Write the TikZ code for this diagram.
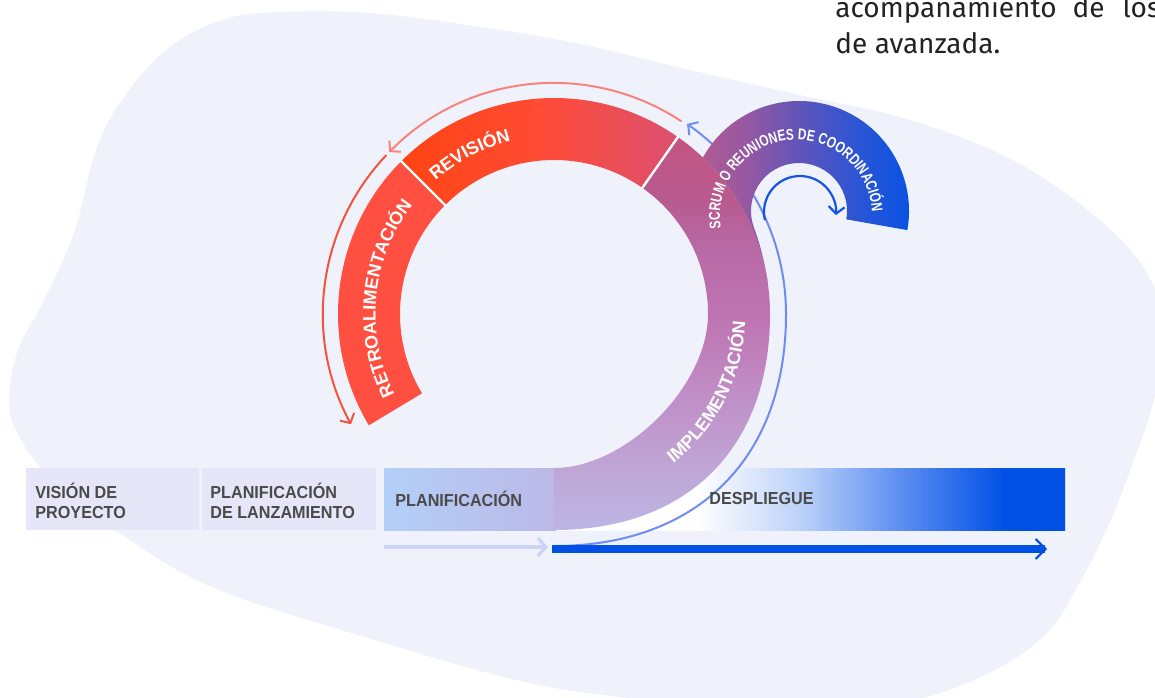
\documentclass[tikz,border=0pt]{standalone}
\usepackage{fontspec}
\setmainfont{Liberation Sans}
\newfontfamily\parafont{Fira Sans}
\newfontfamily\labelface{Liberation Sans}[FakeStretch=0.93]
\newfontfamily\scrumface{Liberation Sans}[FakeStretch=0.76]
\usetikzlibrary{arrows.meta,calc,decorations.text}

\definecolor{blobbg}{HTML}{EFF2FA}
\definecolor{boxgray}{HTML}{E5E7F8}
\definecolor{labelgray}{HTML}{4A4A4A}
\definecolor{parablack}{HTML}{222222}
\definecolor{planblue}{HTML}{B3D0F8}
\definecolor{lavender}{HTML}{BCB8E6}
\definecolor{retrored}{HTML}{FF4F40}
\definecolor{revorange}{HTML}{FF4412}
\definecolor{revmid}{HTML}{FF4B35}
\definecolor{revpink}{HTML}{DC5070}
\definecolor{deepblue}{HTML}{0050E6}
\definecolor{loopblue}{HTML}{1652E6}
\definecolor{thinblue}{HTML}{6E8CF2}
\definecolor{paleblue}{HTML}{CCD3F8}
\definecolor{salmon}{HTML}{F8827E}
\definecolor{arcred}{HTML}{F4523F}
% ring colours, bottom to top
\definecolor{rA}{HTML}{BCB6E4}
\definecolor{rB}{HTML}{BFA6D6}
\definecolor{rC}{HTML}{C090C8}
\definecolor{rD}{HTML}{BF78B5}
\definecolor{rE}{HTML}{B86AA6}
\definecolor{rF}{HTML}{B85A90}
\definecolor{rG}{HTML}{C45580}
% scrum colours, left to right
\definecolor{sA}{HTML}{B05A94}
\definecolor{sB}{HTML}{9558A2}
\definecolor{sC}{HTML}{6555B6}
\definecolor{sD}{HTML}{2D55D4}
\definecolor{sE}{HTML}{0352E6}
% deploy colours
\definecolor{dA}{HTML}{BCD2F8}
\definecolor{dB}{HTML}{5C8EF0}

\pgfdeclareverticalshading{ringshade}{100bp}{color(0bp)=(rA); color(25bp)=(rA); color(32.6bp)=(rB); color(41.5bp)=(rC); color(50.4bp)=(rD); color(60.6bp)=(rE); color(67bp)=(rF); color(75bp)=(rG); color(100bp)=(rG)}
\pgfdeclarehorizontalshading{scrumshade}{100bp}{color(0bp)=(sA); color(25bp)=(sA); color(35.2bp)=(sB); color(46.1bp)=(sC); color(60.7bp)=(sD); color(75bp)=(sE); color(100bp)=(sE)}
\pgfdeclarehorizontalshading{deployshade}{100bp}{color(0bp)=(white); color(39bp)=(white); color(49.1bp)=(dA); color(58.9bp)=(dB); color(69.2bp)=(deepblue); color(100bp)=(deepblue)}

\newcommand\ringfont{\bfseries\fontsize{9}{9}\selectfont}
\newcommand\scrumfont{\scrumface\bfseries\fontsize{7.8}{7.8}\selectfont}

\begin{document}
\begin{tikzpicture}[x=0.5pt,y=0.5pt]
\tikzstyle{boxlabel} = [anchor=west, inner sep=0pt, align=left, text=labelgray, font=\labelface\bfseries\fontsize{8.7}{10}\selectfont]
\tikzstyle{para} = [anchor=base west, inner sep=0pt, text=parablack, font=\parafont\fontsize{14}{18}\selectfont]
\tikzstyle{sep} = [white, line width=1.2pt]
\tikzstyle{feedback} = [line width=1pt, -{Straight Barb[length=3.5pt,width=8pt]}]
\tikzstyle{arclabel} = [decorate, decoration={text along path, text align=center, text color=white}]
\useasboundingbox (0,0) rectangle (1155,697);

% background
\fill[blobbg] plot[smooth cycle, tension=0.6] coordinates {(74,464) (96,547) (122,597) (166,647) (222,677) (281,685) (370,684) (481,670) (580,653) (690,627) (800,602) (910,577) (1020,533) (1112,466) (1155,408) (1163,350) (1152,290) (1135,240) (1110,175) (1080,115) (1045,62) (983,21) (900,-5) (760,-12) (620,0) (516,17) (368,59) (214,109) (122,162) (85,193) (42,228) (16,267) (9,297) (18,347) (44,397)};

\node[para] (para1) at (835,679) {acompañamiento\hspace{8pt}de\hspace{9pt}los};
\node[para] (para2) at (835,643) {de avanzada.};

% phases
\fill[boxgray] (26,167) rectangle (199,229);
\fill[boxgray] (202,167) rectangle (376,229);
\shade[shading=deployshade] (554,167) rectangle (1065,229);
\shade[left color=planblue, right color=lavender] (384,167) rectangle (556,229);

\coordinate (c) at (554,383);
\coordinate (s) at (799,486);
\coordinate (loop c) at (800,485);
\coordinate (fb blue) at (554,151);
\coordinate (fb salmon) at ($(c)+(56.5:231)$);
\coordinate (fb red) at ($(c)+(136.5:231)$);
\coordinate (loop start) at ($(loop c)+(193:36)$);
\coordinate (plan start) at (384,150);
\coordinate (plan end) at (548,150);
\coordinate (dep start) at (552,148);
\coordinate (dep end) at (1047,148);

\draw[feedback, thinblue] (fb blue) .. controls (697.8,151) and (786,239.2) .. (786,383) arc[start angle=0,end angle=55,radius=232];

% ring and scrum
\shade[shading=ringshade] (554,167) .. controls (687.9,167) and (770,249.1) .. (770,383) arc[start angle=0,end angle=55,radius=216] -- ($(c)+(55:154)$) arc[start angle=55,end angle=0,radius=154] .. controls (708,311) and (626,229) .. (554,229) -- cycle;
\shade[shading=scrumshade] ($(c)+(8:216)$) .. controls (765.1,433) and (760.7,450.8) .. ($(s)+(200:48)$) arc[start angle=200,end angle=-10,radius=48] -- ($(s)+(-10:110)$) arc[start angle=-10,end angle=150.9,radius=110] arc[start angle=46.4,end angle=8,radius=216] -- cycle;
\shade[left color=revorange, right color=revpink, middle color=revmid] ($(c)+(55:216)$) arc[start angle=55,end angle=135,radius=216] -- ($(c)+(135:154)$) arc[start angle=135,end angle=55,radius=154] -- cycle;
\fill[retrored] ($(c)+(135:216)$) arc[start angle=135,end angle=211,radius=216] -- ($(c)+(211:154)$) arc[start angle=211,end angle=135,radius=154] -- cycle;
\draw[sep] ($(c)+(135:153)$) -- ($(c)+(135:217)$);
\draw[sep] ($(c)+(55:153)$) -- ($(c)+(55:217)$);

% arrows
\draw[feedback, salmon] (fb salmon) arc[start angle=56.5,end angle=135.5,radius=231];
\draw[feedback, arcred] (fb red) arc[start angle=136.5,end angle=208.5,radius=231];
\draw[feedback, loopblue, line width=1.1pt] (loop start) arc[start angle=193,end angle=-5,radius=36];
\draw[paleblue, line width=1.6pt, -{Straight Barb[length=4pt,width=9pt]}] (plan start) -- (plan end);
\draw[deepblue, line width=4pt, -{Straight Barb[length=5pt,width=10pt,line width=1pt]}] (dep start) -- (dep end);

% labels
\node[boxlabel] (vision) at (35,196) {VISIÓN DE\\PROYECTO};
\node[boxlabel] (launch) at (210,196) {PLANIFICACIÓN\\DE LANZAMIENTO};
\node[boxlabel] (planning) at (395,198) {PLANIFICACIÓN};
\node[boxlabel] (deploy) at (709,198) {DESPLIEGUE};
\path[arclabel, decoration={text={|\ringfont|RETROALIMENTACIÓN}}] ($(c)+(212:178.5)$) arc[start angle=212,end angle=137,radius=178.5];
\path[arclabel, decoration={text={|\ringfont|REVISIÓN}}] ($(c)+(135:178.5)$) arc[start angle=135,end angle=100.5,radius=178.5];
\path[arclabel, decoration={text={|\ringfont|IMPLEMENTACIÓN}}] ($(c)+(-60:191.5)$) arc[start angle=-60,end angle=6.2,radius=191.5];
\path[arclabel, decoration={text={|\scrumfont|SCRUM O REUNIONES DE COORDINACIÓN}}] ($(796,481)+(192:76)$) arc[start angle=192,end angle=0,radius=76];
\end{tikzpicture}
\end{document}
